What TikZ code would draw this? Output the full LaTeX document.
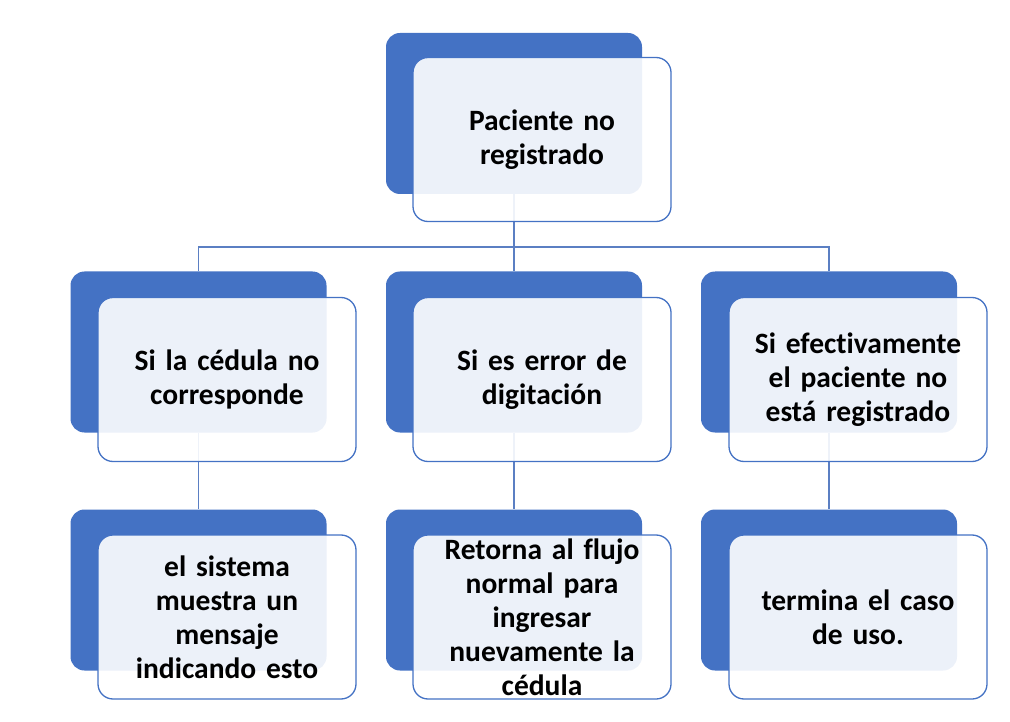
\documentclass[tikz,border=0pt]{standalone}
\usepackage{fontspec}
\setmainfont{Carlito}[Ligatures=NoCommon,WordSpace=0.9]
\definecolor{accent}{HTML}{4472C4}
\definecolor{connc}{HTML}{5B7FC3}
\begin{document}
\begin{tikzpicture}[x=1pt,y=-1pt,
  backbox/.style={rectangle,rounded corners=14pt,fill=accent,draw=none,inner sep=0pt,
    minimum width=256pt,minimum height=161pt},
  frontbox/.style={rectangle,rounded corners=15pt,fill=white,fill opacity=0.9,text opacity=1,
    draw=accent,line width=1.3pt,inner sep=0pt,minimum width=258pt,minimum height=164pt,
    text width=246pt,align=center,font=\fontsize{29.5}{34}\selectfont\bfseries},
  conn/.style={draw=connc,line width=1.4pt}]
\useasboundingbox (0,0) rectangle (1010,722);
% back boxes
\node[backbox] (b0) at (514,113.5) {};
\node[backbox] (b1) at (198.5,352) {};
\node[backbox] (b2) at (514,352) {};
\node[backbox] (b3) at (829,352) {};
\node[backbox] (b4) at (198.5,590) {};
\node[backbox] (b5) at (514,590) {};
\node[backbox] (b6) at (829,590) {};
% connectors
\coordinate (bus) at (514,247);
\draw[conn] (b0.south) -- (bus);
\draw[conn] (bus) -| (b1.north);
\draw[conn] (bus) -- (b2.north);
\draw[conn] (bus) -| (b3.north);
\draw[conn] (b1.south) -- (b4.north);
\draw[conn] (b2.south) -- (b5.north);
\draw[conn] (b3.south) -- (b6.north);
% front boxes
\node[frontbox] (f0) at (542,139.5) {Paciente no\\registrado};
\node[frontbox] (f1) at (227,379.5) {Si la cédula no\\corresponde};
\node[frontbox] (f2) at (542,379.5) {Si es error de\\digitación};
\node[frontbox] (f3) at (858,379.5) {Si efectivamente\\el paciente no\\está registrado};
\node[frontbox] (f4) at (227,617) {el sistema\\muestra un\\mensaje\\indicando esto};
\node[frontbox] (f5) at (542,617) {Retorna al flujo\\normal para\\ingresar\\nuevamente la\\cédula};
\node[frontbox] (f6) at (858,617) {termina el caso\\de uso.};
\end{tikzpicture}
\end{document}
